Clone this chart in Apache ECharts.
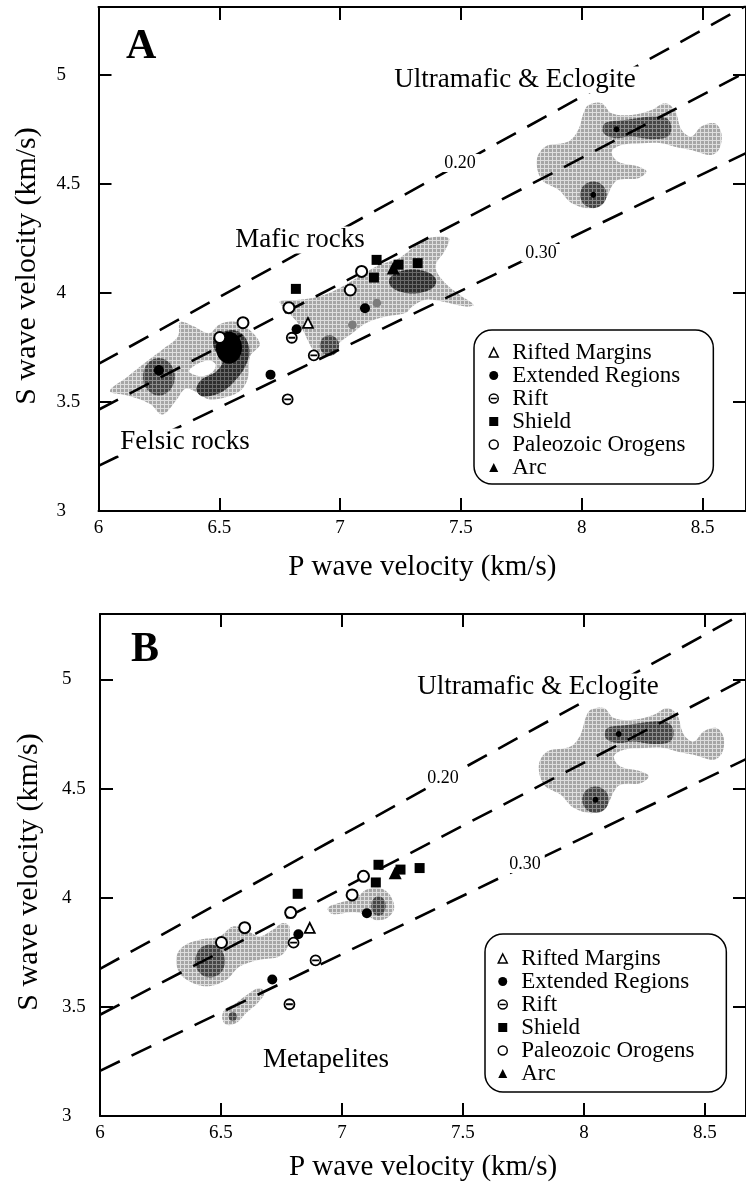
<!DOCTYPE html>
<html>
<head>
<meta charset="utf-8">
<title>Vp–Vs of crustal rocks</title>
<script src="https://cdn.jsdelivr.net/npm/echarts@6/dist/echarts.min.js"></script>
<style>
  html, body { margin: 0; padding: 0; background: #fff; }
  #chart { width: 746px; height: 1184px; }
</style>
</head>
<body>
<div id="chart"></div>
<script>
// ---------- axis ticks ----------
const vpTicks = [6, 6.5, 7, 7.5, 8, 8.5];
const vsTicks = [3, 3.5, 4, 4.5, 5];

// ---------- average crustal sections by tectonic setting [Vp, Vs] km/s ----------
const riftedMargins    = [[6.867, 3.862]];
const extendedRegions  = [[6.820, 3.833], [6.712, 3.625], [7.103, 3.929]];
const rifts            = [[6.800, 3.794], [6.891, 3.713], [6.783, 3.512]];
const shields          = [[6.817, 4.018], [7.151, 4.151], [7.140, 4.070], [7.242, 4.129], [7.321, 4.136]];
const paleozoicOrogens = [[6.598, 3.863], [6.788, 3.932], [7.042, 4.013], [7.089, 4.098], [6.502, 3.795]];
const arcs             = [[7.220, 4.114]];

// ---------- constant Poisson's ratio lines (end points) ----------
const sigma020 = [[6.0, 3.674], [8.7, 5.328]];
const sigma025 = [[6.0, 3.464], [8.7, 5.023]];
const sigma030 = [[6.0, 3.207], [8.7, 4.651]];

// ---------- laboratory data density fields (outlines in Vp, Vs) ----------
// Panel A
const felsicFieldA = [[6.047,3.550],[6.120,3.615],[6.199,3.685],[6.270,3.745],[6.329,3.800],[6.338,3.866],
  [6.395,3.846],[6.458,3.815],[6.500,3.855],[6.560,3.868],[6.615,3.840],[6.668,3.765],[6.628,3.710],
  [6.620,3.617],[6.592,3.556],[6.530,3.522],[6.455,3.512],[6.405,3.545],[6.360,3.560],[6.320,3.505],
  [6.265,3.442],[6.212,3.492],[6.116,3.530]];
const felsicGapA = [[6.375,3.640],[6.410,3.675],[6.460,3.690],[6.485,3.670],[6.470,3.635],[6.420,3.618]];
const felsicCoreEastA = [[6.474,3.785],[6.488,3.808],[6.556,3.830],[6.604,3.800],[6.625,3.731],[6.604,3.655],
  [6.556,3.586],[6.501,3.541],[6.432,3.525],[6.405,3.556],[6.426,3.601],[6.488,3.640],[6.515,3.693],[6.481,3.739]];
const felsicCoreWestA = [6.250, 3.615, 0.066, 0.086];   // ellipse: cx, cy, rx, ry
const felsicPeakEastA = [6.540, 3.748, 0.054, 0.073];
const felsicPeakWestA = [6.250, 3.645, 0.021, 0.024];

const maficFieldA = [[6.750,3.960],[6.831,3.968],[6.914,3.983],[6.996,4.021],[7.079,4.075],[7.161,4.128],
  [7.244,4.159],[7.326,4.228],[7.381,4.255],[7.450,4.250],[7.436,4.197],[7.395,4.120],[7.436,4.044],
  [7.505,3.983],[7.553,3.945],[7.519,3.937],[7.423,3.960],[7.354,3.968],[7.299,3.937],[7.271,3.907],
  [7.189,3.891],[7.106,3.861],[7.051,3.815],[6.996,3.769],[6.983,3.724],[6.914,3.708],[6.879,3.754],
  [6.845,3.831],[6.790,3.907]];
const maficCoreA      = [7.300, 4.052, 0.098, 0.055];
const maficCoreSouthA = [6.956, 3.758, 0.040, 0.047];
const maficSpotsA     = [[7.152, 3.953, 0.018, 0.020], [7.051, 3.853, 0.018, 0.020]];

// Both panels
const ultramaficField = [[8.028,4.861],[8.083,4.869],[8.124,4.823],[8.206,4.815],[8.289,4.838],[8.344,4.869],
  [8.385,4.838],[8.413,4.747],[8.454,4.716],[8.495,4.762],[8.550,4.777],[8.578,4.732],[8.571,4.663],
  [8.536,4.632],[8.454,4.655],[8.385,4.670],[8.330,4.686],[8.248,4.686],[8.165,4.678],[8.124,4.647],
  [8.151,4.601],[8.234,4.579],[8.268,4.556],[8.234,4.525],[8.151,4.518],[8.124,4.487],[8.096,4.426],
  [8.041,4.388],[7.959,4.411],[7.904,4.472],[7.835,4.518],[7.814,4.609],[7.849,4.670],[7.945,4.693],
  [7.986,4.747],[8.007,4.823]];
const ultramaficCoreNorth = [[8.096,4.777],[8.179,4.792],[8.289,4.808],[8.351,4.800],[8.371,4.762],
  [8.357,4.716],[8.289,4.704],[8.206,4.716],[8.138,4.709],[8.090,4.732]];
const ultramaficCoreSouth = [8.048, 4.449, 0.055, 0.061];
const ultramaficPeaks = [[8.144, 4.750, 0.012, 0.014], [8.048, 4.449, 0.012, 0.014]];

// Panel B
const felsicFieldB = [[6.316,3.731],[6.343,3.777],[6.412,3.807],[6.494,3.822],[6.549,3.868],[6.604,3.853],
  [6.659,3.822],[6.714,3.853],[6.755,3.884],[6.783,3.868],[6.776,3.777],[6.741,3.731],[6.659,3.716],
  [6.577,3.685],[6.522,3.624],[6.440,3.594],[6.358,3.624],[6.322,3.670]];
const felsicCoreB = [6.455, 3.710, 0.062, 0.076];
const maficFieldB = [[6.941,3.953],[7.000,3.980],[7.059,3.998],[7.098,4.035],[7.157,4.044],[7.196,4.016],
  [7.216,3.953],[7.186,3.907],[7.137,3.898],[7.098,3.925],[7.039,3.934],[6.961,3.925]];
const maficCoreB = [7.151, 3.962, 0.030, 0.045];
const metapeliteFieldB = [[6.515,3.487],[6.563,3.518],[6.618,3.563],[6.659,3.586],[6.680,3.563],[6.652,3.518],
  [6.604,3.472],[6.563,3.426],[6.522,3.418],[6.505,3.449]];
const metapeliteCoreB = [6.549, 3.456, 0.018, 0.022];

// ---------- styling ----------
const SERIF = "'Liberation Serif', 'Times New Roman', 'DejaVu Serif', serif";

// halftone screen: a small tile with a light grid over a darker ground
function screen(ground, grid) {
  const c = document.createElement('canvas');
  c.width = 4; c.height = 4;
  const g = c.getContext('2d');
  g.fillStyle = ground; g.fillRect(0, 0, 4, 4);
  g.fillStyle = grid; g.fillRect(0, 0, 4, 1); g.fillRect(0, 0, 1, 4);
  return { image: c, repeat: 'repeat' };
}
const LIGHT = screen('#a6a6a6', '#dedede');
const MID = screen('#454545', '#8c8c8c');
const DARK = screen('#2e2e2e', '#6a6a6a');
const SPOT = '#7c7c7c';
const RIFT_PATH = 'path://M0,5A5,5,0,1,1,10,5A5,5,0,1,1,0,5ZM1.6,5L8.4,5';

const layersA = [
  { poly: felsicFieldA, fill: LIGHT },
  { poly: felsicGapA, fill: '#ffffff' },
  { poly: maficFieldA, fill: LIGHT },
  { poly: ultramaficField, fill: LIGHT },
  { ell: felsicCoreWestA, fill: MID },
  { poly: felsicCoreEastA, fill: DARK },
  { ell: felsicPeakEastA, fill: '#000' },
  { ell: felsicPeakWestA, fill: '#000' },
  { ell: maficCoreA, fill: DARK },
  { ell: maficCoreSouthA, fill: MID },
  { ell: maficSpotsA[0], fill: SPOT },
  { ell: maficSpotsA[1], fill: SPOT },
  { poly: ultramaficCoreNorth, fill: MID },
  { ell: ultramaficCoreSouth, fill: MID },
  { ell: ultramaficPeaks[0], fill: '#000' },
  { ell: ultramaficPeaks[1], fill: '#000' }
];
const layersB = [
  { poly: felsicFieldB, fill: LIGHT },
  { poly: maficFieldB, fill: LIGHT },
  { poly: metapeliteFieldB, fill: LIGHT },
  { poly: ultramaficField, fill: LIGHT },
  { ell: felsicCoreB, fill: MID },
  { ell: maficCoreB, fill: MID },
  { ell: metapeliteCoreB, fill: MID },
  { poly: ultramaficCoreNorth, fill: MID },
  { ell: ultramaficCoreSouth, fill: MID },
  { ell: ultramaficPeaks[0], fill: '#000' },
  { ell: ultramaficPeaks[1], fill: '#000' }
];

const groups = [
  { name: 'Rifted Margins',    data: riftedMargins,    symbol: 'triangle', size: 10, color: '#fff', border: 1.8 },
  { name: 'Extended Regions',  data: extendedRegions,  symbol: 'circle',   size: 10, color: '#000', border: 0 },
  { name: 'Rift',              data: rifts,            symbol: RIFT_PATH,  size: 10, color: '#fff', border: 1.8 },
  { name: 'Shield',            data: shields,          symbol: 'rect',     size: 10, color: '#000', border: 0 },
  { name: 'Paleozoic Orogens', data: paleozoicOrogens, symbol: 'circle',   size: 11, color: '#fff', border: 2 },
  { name: 'Arc',               data: arcs,             symbol: 'triangle', size: 13, color: '#000', border: 0 }
];

const panels = [
  { grid: { left: 98.5, top: 7, right: -2, height: 504 }, xMax: 8.68, yMax: 5.31, layers: layersA,
    labelMargin: 42, xNameGap: 42 },
  { grid: { left: 100, top: 614, right: -2, height: 502 }, xMax: 8.67, yMax: 5.30, layers: layersB,
    labelMargin: 38, xNameGap: 37 }
];

const axisLine = { show: true, onZero: false, lineStyle: { color: '#000', width: 2 } };
const axisTick = { show: true, inside: true, length: 13, lineStyle: { color: '#000', width: 2 } };
const tickFont = { fontFamily: SERIF, fontSize: 19, color: '#000' };
const titleFont = { fontFamily: SERIF, fontSize: 29, color: '#000' };

const grid = [], xAxis = [], yAxis = [], series = [];

panels.forEach((p, i) => {
  grid.push(p.grid);
  xAxis.push({
    gridIndex: i, type: 'value', position: 'bottom', min: 6, max: p.xMax, interval: 0.5,
    axisLine, axisTick, splitLine: { show: false },
    axisLabel: { ...tickFont, margin: 8, showMaxLabel: false,
      formatter: v => (vpTicks.includes(v) ? String(v) : '') },
    name: 'P wave velocity (km/s)', nameLocation: 'middle', nameGap: p.xNameGap, nameTextStyle: titleFont
  }, {
    gridIndex: i, type: 'value', position: 'top', min: 6, max: p.xMax, interval: 0.5,
    axisLine, axisTick, splitLine: { show: false }, axisLabel: { show: false }
  });
  yAxis.push({
    gridIndex: i, type: 'value', position: 'left', min: 3, max: p.yMax, interval: 0.5,
    axisLine, axisTick, splitLine: { show: false },
    axisLabel: { ...tickFont, margin: p.labelMargin, align: 'left', showMaxLabel: false,
      formatter: v => (vsTicks.includes(v) ? String(v) : '') },
    name: 'S wave velocity (km/s)', nameLocation: 'middle', nameGap: 56,
    nameTextStyle: { ...titleFont, fontSize: 30, padding: [0, 14, 0, 0] }
  }, {
    gridIndex: i, type: 'value', position: 'right', min: 3, max: p.yMax, interval: 0.5,
    axisLine, axisTick, splitLine: { show: false }, axisLabel: { show: false }
  });

  const xi = 2 * i, yi = 2 * i;
  const layers = p.layers;

  // shaded density fields
  series.push({
    type: 'custom', xAxisIndex: xi, yAxisIndex: yi, silent: true, clip: true, z: 1,
    encode: { x: 0, y: 1 },
    data: layers.map((l, k) => (l.poly ? [l.poly[0][0], l.poly[0][1], k] : [l.ell[0], l.ell[1], k])),
    renderItem: (params, api) => {
      const l = layers[api.value(2)];
      if (l.poly) {
        return { type: 'polygon', shape: { points: l.poly.map(pt => api.coord(pt)), smooth: 0.35 },
                 style: { fill: l.fill } };
      }
      const c = api.coord([l.ell[0], l.ell[1]]);
      const r = api.size([l.ell[2], l.ell[3]]);
      return { type: 'ellipse', shape: { cx: c[0], cy: c[1], rx: r[0], ry: r[1] }, style: { fill: l.fill } };
    }
  });

  // constant Poisson's ratio lines
  [sigma020, sigma025, sigma030].forEach(d => {
    series.push({
      type: 'line', xAxisIndex: xi, yAxisIndex: yi, data: d, symbol: 'none', silent: true, z: 2,
      lineStyle: { color: '#000', width: 2.6, type: [22, 13] }
    });
  });

  // crustal averages
  groups.forEach(g => {
    series.push({
      type: 'scatter', name: g.name, xAxisIndex: xi, yAxisIndex: yi, data: g.data, z: 3,
      symbol: g.symbol, symbolSize: g.size,
      itemStyle: { color: g.color, borderColor: '#000', borderWidth: g.border, opacity: 1 }
    });
  });
});

const legendData = groups.map(g => ({
  name: g.name, icon: g.symbol,
  itemStyle: { color: g.color, borderColor: '#000', borderWidth: g.border ? 1.5 : 0 }
}));
const legendBase = {
  orient: 'vertical', itemWidth: 9, itemHeight: 9, itemGap: 0,
  borderColor: '#000', borderWidth: 1.5, borderRadius: 18, backgroundColor: '#fff',
  selectedMode: false, data: legendData,
  textStyle: { fontFamily: SERIF, fontSize: 23, lineHeight: 23, color: '#000', padding: [0, 0, 0, 9] }
};

// panel letters and field names (field names and ratio labels knock out the lines beneath them)
const notes = [
  { text: 'A', x: 126, y: 47, size: 42, bold: true, align: 'left' },
  { text: 'Ultramafic & Eclogite', x: 515, y: 80, size: 27, knockout: true },
  { text: '0.20', x: 460, y: 163, size: 18, knockout: true },
  { text: 'Mafic rocks', x: 300, y: 240, size: 27, knockout: true },
  { text: '0.30', x: 541, y: 253, size: 18, knockout: true },
  { text: 'Felsic rocks', x: 185, y: 442, size: 27, knockout: true },
  { text: 'B', x: 131, y: 650, size: 42, bold: true, align: 'left' },
  { text: 'Ultramafic & Eclogite', x: 538, y: 687, size: 27, knockout: true },
  { text: '0.20', x: 443, y: 778, size: 18, knockout: true },
  { text: '0.30', x: 525, y: 864, size: 18, knockout: true },
  { text: 'Metapelites', x: 326, y: 1060, size: 27, knockout: true }
];

const chart = echarts.init(document.getElementById('chart'), null, { renderer: 'canvas' });
chart.setOption({
  animation: false,
  backgroundColor: '#fff',
  grid, xAxis, yAxis, series,
  legend: [
    { ...legendBase, left: 474, top: 330, padding: [11, 28, 5, 14.5] },
    { ...legendBase, left: 485, top: 934, padding: [13, 32, 7, 12.5] }
  ],
  graphic: notes.map(n => ({
    type: 'text', x: n.x, y: n.y, z: 10, silent: true,
    style: {
      text: n.text, fill: '#000', fontFamily: SERIF, fontSize: n.size,
      fontWeight: n.bold ? 'bold' : 'normal', align: n.align || 'center', verticalAlign: 'middle',
      backgroundColor: n.knockout ? '#fff' : 'transparent',
      padding: n.knockout ? [0, 4] : 0
    }
  }))
});
</script>
</body>
</html>
